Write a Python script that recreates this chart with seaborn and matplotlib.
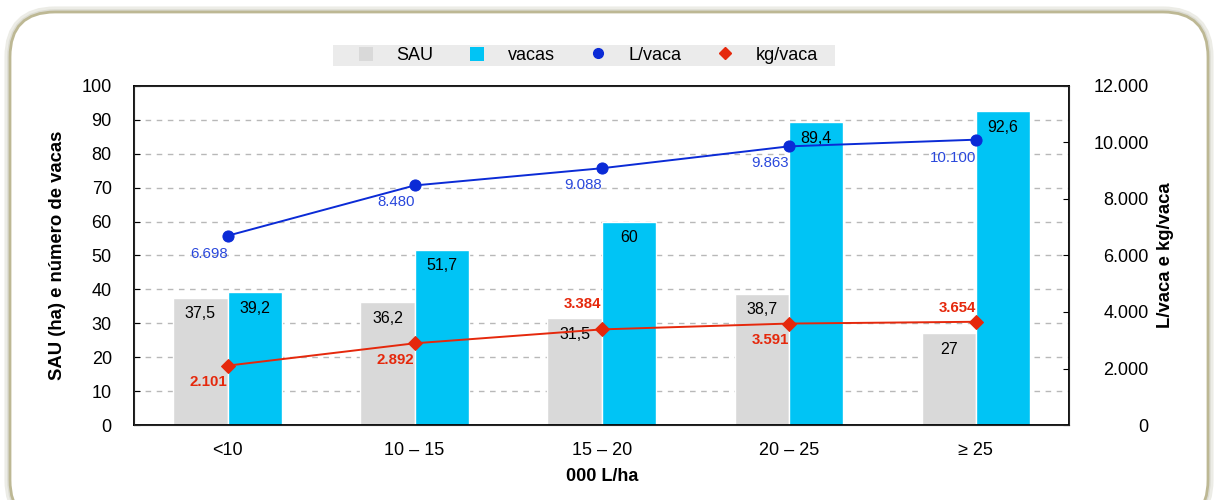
import numpy as np
import pandas as pd
import matplotlib.pyplot as plt
import seaborn as sns
from matplotlib.patches import FancyBboxPatch, Rectangle
from matplotlib.lines import Line2D
from matplotlib.patches import Patch
from matplotlib.ticker import FixedLocator, FuncFormatter

categorias = ["<10", "10 – 15", "15 – 20", "20 – 25", "≥ 25"]
sau = [37.5, 36.2, 31.5, 38.7, 27]
vacas = [39.2, 51.7, 60, 89.4, 92.6]
l_vaca = [6698, 8480, 9088, 9863, 10100]
kg_vaca = [2101, 2892, 3384, 3591, 3654]

sns.set_style("white")
plt.rcParams['font.family'] = ['Liberation Sans', 'DejaVu Sans']
plt.rcParams['font.size'] = 11
plt.rcParams['text.color'] = 'black'
plt.rcParams['axes.labelcolor'] = 'black'
plt.rcParams['xtick.color'] = 'black'
plt.rcParams['ytick.color'] = 'black'

c_sau = '#d9d9d9'
c_vacas = '#00c4f5'
c_blue = '#0b2bd6'
c_blue_txt = '#2a48dc'
c_red = '#e5280c'


def fmt_pt(v):
    # 6698 -> "6.698"
    return f"{int(v):,}".replace(",", ".")


def fmt_dec(v):
    return f"{v:g}".replace(".", ",")


df = pd.DataFrame({
    "cat": categorias * 2,
    "valor": sau + vacas,
    "serie": ["SAU"] * 5 + ["vacas"] * 5,
})

fig = plt.figure(figsize=(12.18, 5), dpi=100)

# rounded outer frame with soft shadow
for col, lw in [('#ececE6', 8), ('#dcdcd3', 4)]:
    fig.patches.append(FancyBboxPatch((0.1, -0.25), 11.98, 5.13,
                                      boxstyle="round,pad=0,rounding_size=0.45",
                                      transform=fig.dpi_scale_trans, fc='none',
                                      ec=col, lw=lw, zorder=-3))
fig.patches.append(FancyBboxPatch((0.1, -0.25), 11.98, 5.13,
                                  boxstyle="round,pad=0,rounding_size=0.45",
                                  transform=fig.dpi_scale_trans, fc='white',
                                  ec='#bdb894', lw=2, zorder=-2))
# legend background strip
fig.patches.append(Rectangle((333 / 1218, 1 - 66 / 500), 502 / 1218, 21 / 500,
                             transform=fig.transFigure, fc='#ebebeb', ec='none',
                             zorder=-1))

ax = fig.add_axes([0.110, 0.15, 0.768, 0.678])
ax.patch.set_alpha(0)
sns.barplot(data=df, x="cat", y="valor", hue="serie", palette=[c_sau, c_vacas],
            width=0.58, gap=0, ax=ax, legend=False, saturation=1)
ax.set_xlim(-0.5, 4.5)
ax.set_ylim(0, 100)
ax.set_yticks(np.arange(0, 101, 10))
for y in range(10, 100, 10):
    ax.axhline(y, color='#b8b8b8', ls=(0, (4, 4)), lw=1, zorder=0)

for cont, vals in zip(ax.containers, [sau, vacas]):
    ax.bar_label(cont, labels=[fmt_dec(v) for v in vals], padding=-17,
                 fontsize=11.5, color='black')

ax.set_xlabel("000 L/ha", fontsize=13, fontweight='bold', labelpad=7)
ax.set_ylabel("SAU (ha) e número de vacas", fontsize=13.3, fontweight='bold', labelpad=11)
ax.tick_params(axis='x', which='major', length=0, pad=12, labelsize=13)
ax.xaxis.set_minor_locator(FixedLocator([0.5, 1.5, 2.5, 3.5]))
ax.tick_params(axis='x', which='minor', length=5, direction='out', width=1)
ax.tick_params(axis='y', length=4, direction='in', labelsize=13, pad=16)
for s in ax.spines.values():
    s.set_color('black')
    s.set_linewidth(1.3)

ax2 = ax.twinx()
ax2.set_ylim(0, 12000)
ax2.set_yticks(np.arange(0, 12001, 2000))
ax2.yaxis.set_major_formatter(FuncFormatter(lambda v, p: fmt_pt(v)))
ax2.tick_params(axis='y', length=4, direction='in', labelsize=13, pad=57)
for t in ax2.get_yticklabels():
    t.set_horizontalalignment('right')
ax2.set_ylabel("L/vaca e kg/vaca", fontsize=13.3, fontweight='bold', labelpad=6)

xs = np.arange(len(categorias))
sns.lineplot(x=xs, y=l_vaca, color=c_blue, marker='o', markersize=8,
             markeredgecolor=c_blue, lw=1.4, ax=ax2)
sns.lineplot(x=xs, y=kg_vaca, color=c_red, marker='D', markersize=7,
             markeredgecolor=c_red, lw=1.4, ax=ax2)
ax2.set_xlim(-0.5, 4.5)

l_dy = [-13, -12, -12, -12, -13]
kg_dy = [-12, -12, 18, -12, 10]
for x, v, dy in zip(xs, l_vaca, l_dy):
    ax2.annotate(fmt_pt(v), (x, v), xytext=(0, dy), textcoords='offset points',
                 ha='right', va='center', color=c_blue_txt, fontsize=10.8)
for x, v, dy in zip(xs, kg_vaca, kg_dy):
    ax2.annotate(fmt_pt(v), (x, v), xytext=(0, dy), textcoords='offset points',
                 ha='right', va='center', color=c_red, fontsize=10.8,
                 fontweight='bold')

handles = [
    Patch(facecolor=c_sau, edgecolor='none', label='SAU'),
    Patch(facecolor=c_vacas, edgecolor='none', label='vacas'),
    Line2D([], [], color=c_blue, marker='o', ls='none', markersize=7, label='L/vaca'),
    Line2D([], [], color=c_red, marker='D', ls='none', markersize=6, label='kg/vaca'),
]
leg = fig.legend(handles=handles, ncol=4, loc='center', bbox_to_anchor=(0.483, 0.889),
                 frameon=False, fontsize=13, handlelength=0.8,
                 handleheight=0.8, columnspacing=2.0, handletextpad=1.3,
                 borderpad=0.0)

fig.savefig("out.png", dpi=100)
